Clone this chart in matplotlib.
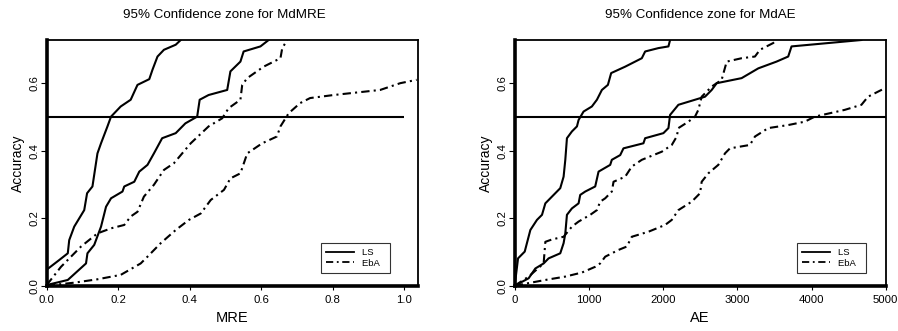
import matplotlib
matplotlib.use("Agg")
import matplotlib.pyplot as plt
import numpy as np

plt.rcParams['font.family'] = ['Liberation Sans', 'DejaVu Sans']

# ---- Left panel: MRE ----
mre_ls1_x = [0.003, 0.035, 0.059, 0.063, 0.077, 0.105, 0.113, 0.128, 0.142, 0.152, 0.170, 0.180, 0.207, 0.235, 0.254, 0.287, 0.296, 0.310, 0.328, 0.361, 0.375]
mre_ls1_y = [0.050, 0.076, 0.096, 0.135, 0.175, 0.224, 0.274, 0.294, 0.392, 0.422, 0.472, 0.501, 0.531, 0.551, 0.595, 0.612, 0.640, 0.679, 0.699, 0.714, 0.728]

mre_ls2_x = [0.0, 0.059, 0.110, 0.114, 0.133, 0.152, 0.166, 0.180, 0.212, 0.217, 0.245, 0.259, 0.282, 0.300, 0.323, 0.361, 0.388, 0.421, 0.428, 0.453, 0.505, 0.514, 0.542, 0.551, 0.598, 0.621]
mre_ls2_y = [0.002, 0.017, 0.066, 0.096, 0.121, 0.175, 0.234, 0.259, 0.279, 0.294, 0.308, 0.338, 0.358, 0.392, 0.437, 0.452, 0.481, 0.501, 0.551, 0.565, 0.580, 0.635, 0.664, 0.694, 0.709, 0.728]

mre_eba1_x = [0.0, 0.040, 0.096, 0.142, 0.180, 0.217, 0.235, 0.254, 0.272, 0.300, 0.328, 0.356, 0.403, 0.453, 0.491, 0.509, 0.542, 0.547, 0.561, 0.607, 0.654, 0.659, 0.673]
mre_eba1_y = [0.002, 0.056, 0.116, 0.155, 0.170, 0.180, 0.205, 0.219, 0.264, 0.299, 0.343, 0.363, 0.422, 0.472, 0.496, 0.526, 0.551, 0.595, 0.615, 0.649, 0.674, 0.704, 0.728]

mre_eba2_x = [0.0, 0.077, 0.142, 0.207, 0.263, 0.282, 0.319, 0.361, 0.398, 0.431, 0.459, 0.496, 0.514, 0.542, 0.561, 0.603, 0.644, 0.654, 0.677, 0.709, 0.737, 0.803, 0.933, 0.989, 1.035]
mre_eba2_y = [0.0, 0.009, 0.019, 0.032, 0.066, 0.086, 0.126, 0.165, 0.195, 0.214, 0.254, 0.284, 0.318, 0.333, 0.392, 0.422, 0.442, 0.472, 0.511, 0.541, 0.556, 0.565, 0.580, 0.600, 0.610]

# ---- Right panel: AE ----
ae_ls1_x = [0, 45, 135, 211, 300, 368, 413, 614, 659, 682, 704, 771, 839, 861, 928, 1040, 1108, 1175, 1256, 1300, 1489, 1713, 1758, 1937, 2072, 2094]
ae_ls1_y = [0.0, 0.081, 0.101, 0.165, 0.195, 0.210, 0.244, 0.289, 0.323, 0.373, 0.437, 0.457, 0.472, 0.491, 0.516, 0.531, 0.551, 0.580, 0.595, 0.630, 0.649, 0.674, 0.694, 0.704, 0.709, 0.728]

ae_ls2_x = [0, 188, 278, 390, 457, 614, 659, 682, 704, 771, 861, 883, 951, 1085, 1130, 1287, 1309, 1422, 1466, 1735, 1758, 2004, 2072, 2094, 2206, 2565, 2655, 2722, 3058, 3283, 3529, 3686, 3731, 4673]
ae_ls2_y = [0.0, 0.022, 0.051, 0.066, 0.081, 0.096, 0.126, 0.155, 0.210, 0.229, 0.244, 0.269, 0.279, 0.294, 0.338, 0.358, 0.373, 0.387, 0.407, 0.422, 0.437, 0.452, 0.467, 0.506, 0.536, 0.560, 0.580, 0.600, 0.615, 0.644, 0.664, 0.679, 0.709, 0.728]

ae_eba1_x = [0, 188, 390, 413, 502, 659, 771, 861, 1018, 1108, 1152, 1220, 1309, 1332, 1489, 1578, 1713, 1982, 2117, 2184, 2206, 2341, 2430, 2475, 2520, 2655, 2789, 2857, 3058, 3238, 3305, 3484, 3529]
ae_eba1_y = [0.0, 0.027, 0.066, 0.130, 0.137, 0.145, 0.175, 0.190, 0.210, 0.224, 0.249, 0.259, 0.279, 0.308, 0.323, 0.353, 0.373, 0.397, 0.417, 0.442, 0.467, 0.486, 0.501, 0.521, 0.560, 0.590, 0.610, 0.664, 0.674, 0.679, 0.699, 0.719, 0.728]

ae_eba2_x = [0, 413, 682, 906, 1085, 1152, 1220, 1399, 1511, 1578, 1803, 2027, 2117, 2206, 2386, 2498, 2520, 2610, 2744, 2834, 2901, 3170, 3238, 3417, 3686, 3910, 4045, 4448, 4673, 4762, 4987]
ae_eba2_y = [0.0, 0.017, 0.027, 0.039, 0.056, 0.066, 0.086, 0.106, 0.116, 0.145, 0.160, 0.180, 0.195, 0.224, 0.249, 0.274, 0.308, 0.333, 0.358, 0.392, 0.407, 0.417, 0.442, 0.467, 0.476, 0.486, 0.501, 0.521, 0.536, 0.560, 0.585]

titles = ["95% Confidence zone for MdMRE", "95% Confidence zone for MdAE"]
xlabels = ["MRE", "AE"]
legend_labels = ["LS  ", "EbA  "]

W, H = 898, 331
fig = plt.figure(figsize=(W / 100, H / 100), dpi=100)

def add_ax(left_px, right_px):
    top_px, bot_px = 40, 285.7
    return fig.add_axes([left_px / W, 1 - bot_px / H, (right_px - left_px) / W, (bot_px - top_px) / H])

axL = add_ax(46.7, 417.7)
axR = add_ax(514.7, 885.7)

dash = (0, (4, 2, 1, 2))
lw = 1.5

def style(ax, title, title_x, xlabel, xlim, xticks, xticklabels, hline_end, leg_anchor):
    ax.set_xlim(*xlim)
    ax.set_ylim(0, 0.728)
    ax.hlines(0.5, 0, hline_end, color='black', lw=1.5)
    ax.set_xticks(xticks)
    ax.set_xticklabels(xticklabels, fontsize=8.2)
    ax.set_yticks([0.0, 0.2, 0.4, 0.6])
    ax.set_yticklabels(["0.0", "0.2", "0.4", "0.6"], fontsize=8.2, rotation=90, va='center')
    ax.tick_params(axis='x', direction='out', length=3.2, width=0.8, pad=3.7)
    ax.tick_params(axis='y', direction='out', length=4.5, width=0.8, pad=0.8)
    for s in ['left', 'bottom']:
        ax.spines[s].set_linewidth(2.6)
    for s in ['top', 'right']:
        ax.spines[s].set_linewidth(1.3)
    ax.set_xlabel(xlabel, fontsize=10.5, labelpad=4)
    ax.set_ylabel("Accuracy", fontsize=10, labelpad=3.5)
    ax.set_title(title, fontsize=9.6, pad=15.5, x=title_x)
    leg = ax.legend(handles=[ax.lines[0], ax.lines[2]], labels=legend_labels, loc='lower right',
                    bbox_to_anchor=leg_anchor, fontsize=6.8, frameon=True, fancybox=False,
                    edgecolor='black', handlelength=2.9, handletextpad=0.9, borderpad=0.55,
                    labelspacing=0.15, borderaxespad=0)
    leg.get_frame().set_linewidth(0.8)
    for h in leg.get_lines():
        h.set_linewidth(1.3)

axL.plot(mre_ls1_x, mre_ls1_y, color='black', lw=lw)
axL.plot(mre_ls2_x, mre_ls2_y, color='black', lw=lw)
axL.plot(mre_eba1_x, mre_eba1_y, color='black', lw=lw, linestyle=dash)
axL.plot(mre_eba2_x, mre_eba2_y, color='black', lw=lw, linestyle=dash)
style(axL, titles[0], 0.478, xlabels[0], (0, 1.038), [0, 0.2, 0.4, 0.6, 0.8, 1.0],
      ["0.0", "0.2", "0.4", "0.6", "0.8", "1.0"], 1.0, (0.925, 0.052))

axR.plot(ae_ls1_x, ae_ls1_y, color='black', lw=lw)
axR.plot(ae_ls2_x, ae_ls2_y, color='black', lw=lw)
axR.plot(ae_eba1_x, ae_eba1_y, color='black', lw=lw, linestyle=dash)
axR.plot(ae_eba2_x, ae_eba2_y, color='black', lw=lw, linestyle=dash)
style(axR, titles[1], 0.5, xlabels[1], (0, 5000), [0, 1000, 2000, 3000, 4000, 5000],
      ["0", "1000", "2000", "3000", "4000", "5000"], 5000, (0.947, 0.052))

fig.savefig("out.png", dpi=100)
